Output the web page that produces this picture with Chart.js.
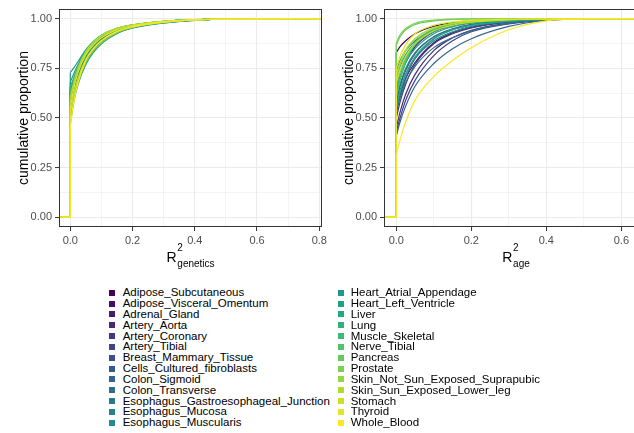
<!DOCTYPE html>
<html>
<head>
<meta charset="utf-8">
<script src="https://cdn.jsdelivr.net/npm/chart.js@4"></script>
<style>
  html, body { margin: 0; padding: 0; background: #ffffff; }
  body { position: relative; width: 634px; height: 433px; overflow: hidden;
         font-family: "Liberation Sans", Arial, Helvetica, sans-serif; }
  canvas { position: absolute; top: 0; }
  #genetics { left: 0; }
  #age { left: 325px; }
  .key { position: absolute; width: 6px; height: 6px; }
  .lab { position: absolute; font-size: 11.5px; line-height: 12px; color: #000; white-space: nowrap; }
</style>
</head>
<body>
<canvas id="genetics" width="331" height="270"></canvas>
<canvas id="age" width="323" height="270"></canvas>
<div id="legend"></div>
<script>
// Tissues in factor order
const tissues = [
  "Adipose_Subcutaneous", "Adipose_Visceral_Omentum", "Adrenal_Gland", "Artery_Aorta",
  "Artery_Coronary", "Artery_Tibial", "Breast_Mammary_Tissue", "Cells_Cultured_fibroblasts",
  "Colon_Sigmoid", "Colon_Transverse", "Esophagus_Gastroesophageal_Junction", "Esophagus_Mucosa",
  "Esophagus_Muscularis", "Heart_Atrial_Appendage", "Heart_Left_Ventricle", "Liver", "Lung",
  "Muscle_Skeletal", "Nerve_Tibial", "Pancreas", "Prostate", "Skin_Not_Sun_Exposed_Suprapubic",
  "Skin_Sun_Exposed_Lower_leg", "Stomach", "Thyroid", "Whole_Blood"
];

// R2 values at which the cumulative proportions are listed
const geneticsGrid = [0, 0.01, 0.025, 0.05, 0.075, 0.1, 0.15, 0.2, 0.3, 0.4, 0.5, 0.768];
const ageGrid = [0, 0.01, 0.025, 0.05, 0.1, 0.15, 0.2, 0.3, 0.4, 0.5, 0.64];

// Cumulative proportion of genes per tissue (R2 genetics)
const geneticsCdf = [
  [0.66, 0.69, 0.74, 0.815, 0.865, 0.9, 0.942, 0.963, 0.985, 0.995, 0.999, 1],
  [0.60, 0.66, 0.73, 0.81, 0.86, 0.895, 0.94, 0.962, 0.984, 0.995, 0.999, 1],
  [0.55, 0.63, 0.715, 0.8, 0.855, 0.89, 0.937, 0.96, 0.983, 0.994, 0.999, 1],
  [0.62, 0.67, 0.735, 0.81, 0.862, 0.897, 0.94, 0.962, 0.984, 0.995, 0.999, 1],
  [0.52, 0.60, 0.69, 0.785, 0.845, 0.885, 0.933, 0.958, 0.982, 0.994, 0.999, 1],
  [0.64, 0.68, 0.74, 0.81, 0.86, 0.895, 0.938, 0.96, 0.983, 0.994, 0.999, 1],
  [0.58, 0.65, 0.73, 0.815, 0.867, 0.902, 0.944, 0.965, 0.986, 0.996, 0.999, 1],
  [0.50, 0.59, 0.68, 0.775, 0.835, 0.877, 0.928, 0.955, 0.98, 0.993, 0.999, 1],
  [0.57, 0.64, 0.72, 0.805, 0.858, 0.893, 0.938, 0.961, 0.984, 0.995, 0.999, 1],
  [0.61, 0.67, 0.74, 0.82, 0.87, 0.905, 0.946, 0.966, 0.986, 0.996, 0.999, 1],
  [0.56, 0.64, 0.725, 0.81, 0.862, 0.897, 0.94, 0.962, 0.984, 0.995, 0.999, 1],
  [0.63, 0.69, 0.755, 0.83, 0.877, 0.91, 0.948, 0.967, 0.987, 0.996, 0.999, 1],
  [0.60, 0.665, 0.74, 0.82, 0.87, 0.904, 0.945, 0.965, 0.986, 0.996, 0.999, 1],
  [0.73, 0.75, 0.785, 0.845, 0.888, 0.918, 0.952, 0.97, 0.988, 0.996, 0.999, 1],
  [0.68, 0.72, 0.77, 0.838, 0.882, 0.913, 0.95, 0.968, 0.987, 0.996, 0.999, 1],
  [0.47, 0.57, 0.67, 0.77, 0.832, 0.875, 0.927, 0.954, 0.98, 0.993, 0.999, 1],
  [0.59, 0.66, 0.74, 0.82, 0.87, 0.905, 0.946, 0.966, 0.986, 0.996, 0.999, 1],
  [0.65, 0.70, 0.765, 0.84, 0.885, 0.917, 0.952, 0.97, 0.988, 0.997, 1, 1],
  [0.62, 0.68, 0.75, 0.83, 0.878, 0.912, 0.95, 0.968, 0.987, 0.996, 0.999, 1],
  [0.50, 0.60, 0.70, 0.80, 0.856, 0.893, 0.938, 0.961, 0.984, 0.995, 0.999, 1],
  [0.48, 0.58, 0.68, 0.78, 0.84, 0.88, 0.93, 0.957, 0.982, 0.994, 0.999, 1],
  [0.58, 0.66, 0.745, 0.83, 0.88, 0.914, 0.951, 0.969, 0.988, 0.996, 0.999, 1],
  [0.60, 0.67, 0.75, 0.835, 0.883, 0.916, 0.952, 0.97, 0.988, 0.996, 0.999, 1],
  [0.52, 0.61, 0.70, 0.795, 0.85, 0.888, 0.935, 0.959, 0.983, 0.995, 0.999, 1],
  [0.55, 0.64, 0.73, 0.82, 0.87, 0.905, 0.946, 0.966, 0.986, 0.996, 0.999, 1],
  [0.46, 0.57, 0.68, 0.79, 0.85, 0.89, 0.937, 0.96, 0.984, 0.995, 0.999, 1]
];

// Cumulative proportion of genes per tissue (R2 age)
const ageCdf = [
  [0.83, 0.86, 0.89, 0.925, 0.963, 0.98, 0.99, 0.997, 1, 1, 1],
  [0.55, 0.62, 0.70, 0.78, 0.88, 0.93, 0.958, 0.985, 0.997, 1, 1],
  [0.62, 0.70, 0.78, 0.86, 0.935, 0.966, 0.982, 0.995, 0.999, 1, 1],
  [0.45, 0.53, 0.62, 0.72, 0.84, 0.905, 0.943, 0.978, 0.995, 1, 1],
  [0.50, 0.58, 0.67, 0.77, 0.875, 0.925, 0.955, 0.984, 0.996, 1, 1],
  [0.43, 0.50, 0.59, 0.69, 0.815, 0.89, 0.935, 0.975, 0.994, 1, 1],
  [0.58, 0.66, 0.74, 0.825, 0.91, 0.95, 0.972, 0.99, 0.998, 1, 1],
  [0.52, 0.61, 0.70, 0.80, 0.90, 0.945, 0.968, 0.988, 0.997, 1, 1],
  [0.41, 0.48, 0.56, 0.66, 0.775, 0.85, 0.90, 0.962, 0.992, 1, 1],
  [0.54, 0.60, 0.68, 0.76, 0.855, 0.905, 0.94, 0.977, 0.995, 1, 1],
  [0.60, 0.67, 0.75, 0.83, 0.91, 0.948, 0.97, 0.989, 0.998, 1, 1],
  [0.74, 0.79, 0.84, 0.89, 0.945, 0.97, 0.984, 0.995, 1, 1, 1],
  [0.57, 0.64, 0.72, 0.80, 0.89, 0.935, 0.962, 0.986, 0.997, 1, 1],
  [0.64, 0.71, 0.78, 0.85, 0.925, 0.96, 0.978, 0.993, 0.999, 1, 1],
  [0.70, 0.76, 0.82, 0.88, 0.94, 0.968, 0.983, 0.995, 1, 1, 1],
  [0.55, 0.63, 0.72, 0.81, 0.90, 0.945, 0.968, 0.989, 0.998, 1, 1],
  [0.66, 0.73, 0.80, 0.87, 0.935, 0.966, 0.982, 0.995, 1, 1, 1],
  [0.60, 0.69, 0.78, 0.87, 0.945, 0.975, 0.988, 0.997, 1, 1, 1],
  [0.62, 0.70, 0.79, 0.88, 0.95, 0.978, 0.99, 0.998, 1, 1, 1],
  [0.87, 0.91, 0.945, 0.972, 0.99, 0.997, 1, 1, 1, 1, 1],
  [0.88, 0.92, 0.952, 0.978, 0.994, 0.999, 1, 1, 1, 1, 1],
  [0.70, 0.77, 0.84, 0.90, 0.955, 0.978, 0.99, 0.998, 1, 1, 1],
  [0.72, 0.78, 0.845, 0.90, 0.953, 0.976, 0.988, 0.997, 1, 1, 1],
  [0.68, 0.74, 0.81, 0.875, 0.94, 0.968, 0.983, 0.995, 1, 1, 1],
  [0.75, 0.81, 0.87, 0.925, 0.968, 0.985, 0.993, 0.998, 1, 1, 1],
  [0.32, 0.39, 0.48, 0.59, 0.71, 0.79, 0.855, 0.945, 0.99, 1, 1]
];

// Axis tick values (majors are labelled, minors only get a thin grid line)
const geneticsTicks = [0, 0.1, 0.2, 0.3, 0.4, 0.5, 0.6, 0.7, 0.8];
const geneticsLabels = ["0.0", "", "0.2", "", "0.4", "", "0.6", "", "0.8"];
const ageTicks = [0, 0.1, 0.2, 0.3, 0.4, 0.5, 0.6];
const ageLabels = ["0.0", "", "0.2", "", "0.4", "", "0.6"];
const yTicks = [0, 0.125, 0.25, 0.375, 0.5, 0.625, 0.75, 0.875, 1];
const yLabels = ["0.00", "", "0.25", "", "0.50", "", "0.75", "", "1.00"];

// viridis palette
const viridisStops = ["#440154", "#482475", "#414487", "#355f8d", "#2a788e", "#21918c",
                      "#22a884", "#44bf70", "#7ad151", "#bddf26", "#fde725"];
function hexToRgb(h) { return [1, 3, 5].map(k => parseInt(h.substr(k, 2), 16)); }
function viridis(t) {
  const p = t * (viridisStops.length - 1);
  const i = Math.min(Math.floor(p), viridisStops.length - 2);
  const f = p - i;
  const a = hexToRgb(viridisStops[i]), b = hexToRgb(viridisStops[i + 1]);
  const c = a.map((v, k) => Math.round(v + (b[k] - v) * f));
  return `rgb(${c[0]},${c[1]},${c[2]})`;
}
const colors = tissues.map((_, i) => viridis(i / (tissues.length - 1)));

const FONT = '"Liberation Sans", Arial, Helvetica, sans-serif';
const LINE_W = 1.2;

function buildDatasets(grid, cdf, xmin, xmax) {
  const sets = [];
  const n = tissues.length;
  tissues.forEach((name, i) => {
    const vals = cdf[i];
    const last = grid.length - 1;
    const common = { borderColor: colors[i], borderWidth: LINE_W, pointRadius: 0, order: n - 1 - i };
    // ECDF start: flat at zero, then the jump at R2 = 0
    sets.push(Object.assign({
      label: name + " (start)", tension: 0,
      data: [{ x: xmin, y: 0 }, { x: grid[0], y: 0 }, { x: grid[0], y: vals[0] }]
    }, common));
    // smooth body of the ECDF
    sets.push(Object.assign({
      label: name, cubicInterpolationMode: "monotone",
      data: grid.map((g, j) => ({ x: g, y: vals[j] }))
    }, common));
    // ECDF end: flat at one up to the panel edge
    sets.push(Object.assign({
      label: name + " (end)", tension: 0,
      data: [{ x: grid[last], y: vals[last] }, { x: xmax, y: 1 }]
    }, common));
  });
  return sets;
}

function decorPlugin(sub) {
  return {
    id: "panelDecor",
    afterDraw(chart) {
      const { ctx, chartArea: a } = chart;
      ctx.save();
      // panel border
      ctx.strokeStyle = "#333333";
      ctx.lineWidth = 1;
      ctx.strokeRect(a.left + 0.5, a.top + 0.5, a.right - a.left - 1, a.bottom - a.top - 1);
      // y axis title
      ctx.fillStyle = "#000";
      ctx.font = "14px " + FONT;
      ctx.textAlign = "center";
      ctx.textBaseline = "middle";
      ctx.translate(a.left - 34.5, (a.top + a.bottom) / 2);
      ctx.rotate(-Math.PI / 2);
      ctx.fillText("cumulative proportion", 0, 0);
      ctx.restore();
      // x axis title: R with superscript 2 and subscript
      ctx.save();
      ctx.fillStyle = "#000";
      ctx.textAlign = "left";
      ctx.textBaseline = "alphabetic";
      ctx.font = "14px " + FONT;
      const wR = ctx.measureText("R").width;
      ctx.font = "10px " + FONT;
      const w2 = ctx.measureText("2").width;
      const wS = ctx.measureText(sub).width;
      const total = wR + 0.8 + Math.max(w2, wS);
      const x0 = (a.left + a.right) / 2 - total / 2;
      ctx.font = "14px " + FONT;
      ctx.fillText("R", x0, 262);
      ctx.font = "10px " + FONT;
      ctx.fillText("2", x0 + wR + 0.8, 251);
      ctx.fillText(sub, x0 + wR + 0.8, 266.5);
      ctx.restore();
    }
  };
}

function makePanel(id, grid, cdf, xmin, xmax, xt, xl, sub, padRight) {
  const isMajorX = v => xl[xt.indexOf(v)] !== "";
  const isMajorY = v => yLabels[yTicks.indexOf(v)] !== "";
  new Chart(document.getElementById(id), {
    type: "line",
    data: { datasets: buildDatasets(grid, cdf, xmin, xmax) },
    options: {
      responsive: false,
      animation: false,
      events: [],
      layout: { padding: { top: 9, right: padRight, left: 0, bottom: 0 } },
      plugins: { legend: { display: false }, tooltip: { enabled: false } },
      scales: {
        x: {
          type: "linear", min: xmin, max: xmax,
          afterBuildTicks: s => { s.ticks = xt.map(v => ({ value: v })); },
          afterFit: s => { s.height = 43; s.paddingLeft = 0; s.paddingRight = 0; },
          ticks: {
            autoSkip: false, maxRotation: 0, padding: 3,
            color: "#4d4d4d", font: { family: FONT, size: 11 },
            callback: v => xl[xt.indexOf(v)] ?? ""
          },
          grid: {
            color: "#ebebeb",
            lineWidth: c => (isMajorX(c.tick.value) ? 1.1 : 0.55),
            tickLength: 4,
            tickColor: c => (isMajorX(c.tick.value) ? "#333333" : "rgba(0,0,0,0)"),
            tickWidth: 1
          },
          border: { display: false }
        },
        y: {
          type: "linear", min: -0.05, max: 1.05,
          afterBuildTicks: s => { s.ticks = yTicks.map(v => ({ value: v })); },
          afterFit: s => { s.width = 59; s.paddingTop = 0; s.paddingBottom = 0; },
          ticks: {
            autoSkip: false, padding: 3,
            color: "#4d4d4d", font: { family: FONT, size: 11 },
            callback: v => yLabels[yTicks.indexOf(v)] ?? ""
          },
          grid: {
            color: "#ebebeb",
            lineWidth: c => (isMajorY(c.tick.value) ? 1.1 : 0.55),
            tickLength: 4,
            tickColor: c => (isMajorY(c.tick.value) ? "#333333" : "rgba(0,0,0,0)"),
            tickWidth: 1
          },
          border: { display: false }
        }
      }
    },
    plugins: [decorPlugin(sub)]
  });
}

makePanel("genetics", geneticsGrid, geneticsCdf, -0.0363, 0.8087, geneticsTicks, geneticsLabels, "genetics", 9);
makePanel("age", ageGrid, ageCdf, -0.0328, 0.671, ageTicks, ageLabels, "age", 0);

// Two-column legend below the panels
const legend = document.getElementById("legend");
tissues.forEach((name, i) => {
  const col = i < 13 ? 0 : 1;
  const row = i % 13;
  const cy = 292.7 + row * 10.83;
  const key = document.createElement("div");
  key.className = "key";
  key.style.left = (col ? 337.5 : 109) + "px";
  key.style.top = (cy - 3) + "px";
  key.style.background = colors[i];
  legend.appendChild(key);
  const lab = document.createElement("div");
  lab.className = "lab";
  lab.style.left = (col ? 350.7 : 122.7) + "px";
  lab.style.top = (cy - 6.5) + "px";
  lab.textContent = name;
  legend.appendChild(lab);
});
</script>
</body>
</html>
